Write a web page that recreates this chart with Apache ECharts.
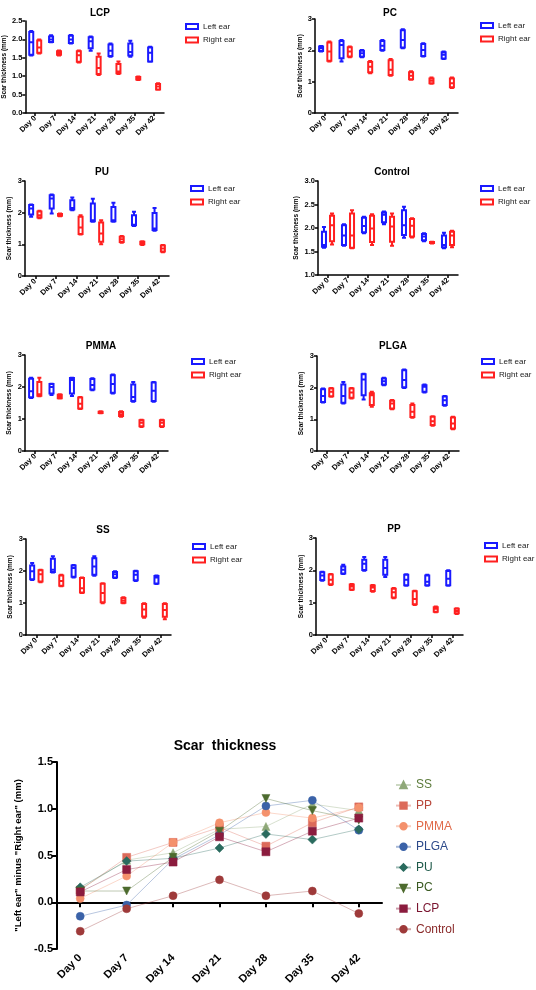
<!DOCTYPE html>
<html><head><meta charset="utf-8">
<script src="https://cdn.jsdelivr.net/npm/echarts@6/dist/echarts.min.js"></script>
<style>html,body{margin:0;padding:0;background:#fff}#c{width:536px;height:990px}</style>
</head><body><div id="c"></div>
<script>
// ---------- DATA ----------
const days = ['Day 0','Day 7','Day 14','Day 21','Day 28','Day 35','Day 42'];
// each box: [min, Q1, median, Q3, max]
const lcpLeft  = [[1.56,1.58,1.92,2.20,2.23],[1.92,1.93,2.00,2.08,2.11],[1.89,1.90,2.00,2.10,2.12],[1.69,1.76,1.95,2.06,2.08],[1.53,1.55,1.69,1.86,1.89],[1.53,1.56,1.66,1.89,1.96],[1.39,1.40,1.64,1.78,1.80]];
const lcpRight = [[1.62,1.64,1.78,1.97,2.00],[1.56,1.58,1.63,1.68,1.70],[1.37,1.39,1.57,1.68,1.70],[1.03,1.06,1.22,1.53,1.62],[1.06,1.08,1.13,1.33,1.40],[0.90,0.91,0.94,0.98,0.99],[0.63,0.64,0.72,0.79,0.81]];
const pcLeft   = [[1.96,1.98,2.07,2.12,2.14],[1.64,1.75,2.17,2.30,2.33],[1.78,1.80,1.91,1.99,2.01],[1.99,2.01,2.15,2.30,2.33],[2.07,2.09,2.33,2.64,2.67],[1.80,1.82,2.01,2.20,2.23],[1.72,1.74,1.86,1.94,1.96]];
const pcRight  = [[1.64,1.67,1.96,2.25,2.28],[1.78,1.80,1.96,2.10,2.12],[1.27,1.30,1.48,1.63,1.66],[1.19,1.21,1.38,1.68,1.72],[1.06,1.08,1.19,1.30,1.33],[0.93,0.95,1.03,1.10,1.13],[0.80,0.82,0.95,1.10,1.13]];
const puLeft   = [[1.87,1.94,2.13,2.24,2.26],[1.97,2.13,2.45,2.55,2.57],[2.08,2.10,2.15,2.39,2.48],[1.71,1.73,1.76,2.29,2.44],[1.71,1.73,1.76,2.18,2.31],[1.58,1.60,1.62,1.92,2.03],[1.43,1.45,1.50,1.99,2.15]];
const puRight  = [[1.82,1.85,1.92,2.04,2.06],[1.89,1.90,1.93,1.96,1.97],[1.31,1.33,1.53,1.87,1.92],[1.00,1.08,1.34,1.69,1.76],[1.05,1.07,1.16,1.24,1.26],[0.98,1.00,1.04,1.08,1.10],[0.75,0.77,0.87,0.96,0.98]];
const ctrlLeft = [[1.58,1.60,1.64,1.92,2.02],[1.62,1.64,1.84,2.06,2.08],[1.89,1.91,2.04,2.22,2.24],[2.08,2.12,2.28,2.33,2.35],[1.79,1.85,2.06,2.38,2.45],[1.72,1.74,1.82,1.87,1.89],[1.57,1.59,1.64,1.84,1.90]];
const ctrlRight= [[1.65,1.72,2.06,2.26,2.31],[1.57,1.58,1.84,2.31,2.38],[1.64,1.70,1.99,2.26,2.29],[1.62,1.71,2.03,2.24,2.31],[1.80,1.82,2.05,2.19,2.21],[1.67,1.68,1.69,1.70,1.71],[1.59,1.64,1.84,1.92,1.94]];
const pmmaLeft = [[1.66,1.68,1.87,2.26,2.29],[1.75,1.80,2.00,2.09,2.10],[1.72,1.80,2.22,2.28,2.29],[1.90,1.92,2.06,2.25,2.27],[1.80,1.82,2.09,2.37,2.39],[1.54,1.56,1.69,2.08,2.16],[1.54,1.56,1.88,2.14,2.16]];
const pmmaRight= [[1.71,1.73,1.77,2.16,2.29],[1.64,1.65,1.71,1.76,1.77],[1.31,1.33,1.48,1.67,1.69],[1.18,1.19,1.21,1.23,1.24],[1.07,1.09,1.15,1.22,1.24],[0.75,0.77,0.88,0.96,0.98],[0.75,0.77,0.88,0.96,0.98]];
const plgaLeft = [[1.53,1.55,1.74,1.95,1.97],[1.50,1.52,1.74,2.10,2.18],[1.63,1.76,2.26,2.42,2.44],[2.08,2.10,2.20,2.29,2.31],[1.99,2.01,2.24,2.55,2.57],[1.85,1.87,2.03,2.08,2.10],[1.43,1.45,1.60,1.72,1.74]];
const plgaRight= [[1.71,1.73,1.87,1.97,1.99],[1.66,1.68,1.85,1.97,1.99],[1.40,1.45,1.76,1.82,1.87],[1.32,1.34,1.50,1.59,1.61],[1.05,1.07,1.24,1.45,1.50],[0.80,0.82,0.94,1.08,1.10],[0.69,0.71,0.87,1.06,1.08]];
const ssLeft   = [[1.72,1.74,1.99,2.17,2.25],[1.95,1.97,2.04,2.38,2.46],[1.80,1.82,2.09,2.17,2.19],[1.85,1.88,2.14,2.40,2.46],[1.78,1.80,1.90,1.97,1.99],[1.69,1.71,1.88,1.99,2.01],[1.59,1.61,1.80,1.84,1.86]];
const ssRight  = [[1.65,1.67,1.90,2.02,2.04],[1.52,1.54,1.69,1.86,1.88],[1.31,1.33,1.46,1.78,1.80],[0.99,1.02,1.31,1.60,1.62],[0.99,1.01,1.08,1.16,1.18],[0.54,0.58,0.80,0.97,0.99],[0.49,0.57,0.78,0.97,0.99]];
const ppLeft   = [[1.68,1.70,1.84,1.94,1.96],[1.89,1.90,2.02,2.12,2.17],[1.99,2.01,2.20,2.33,2.41],[1.79,1.86,2.07,2.33,2.41],[1.52,1.54,1.71,1.86,1.88],[1.52,1.54,1.65,1.84,1.86],[1.52,1.54,1.74,1.98,2.00]];
const ppRight  = [[1.55,1.57,1.71,1.87,1.89],[1.39,1.41,1.50,1.56,1.58],[1.34,1.36,1.47,1.53,1.55],[1.14,1.16,1.32,1.43,1.45],[0.93,0.95,1.11,1.35,1.37],[0.70,0.72,0.81,0.86,0.88],[0.65,0.67,0.74,0.81,0.83]];

// "Left ear" minus "Right ear" (mm)
const ssDiff   = [0.14, 0.45, 0.53, 0.78, 0.81, 1.05, 0.98];
const ppDiff   = [0.13, 0.48, 0.64, 0.80, 0.60, 0.85, 1.02];
const pmmaDiff = [0.04, 0.28, 0.64, 0.85, 0.96, 0.90, 1.01];
const plgaDiff = [-0.15, -0.03, 0.46, 0.72, 1.03, 1.09, 0.77];
const puDiff   = [0.16, 0.44, 0.47, 0.58, 0.73, 0.67, 0.78];
const pcDiff   = [0.12, 0.12, 0.48, 0.76, 1.11, 0.98, 0.88];
const lcpDiff  = [0.11, 0.35, 0.43, 0.70, 0.54, 0.76, 0.90];
const ctrlDiff = [-0.31, -0.07, 0.07, 0.24, 0.07, 0.12, -0.12];

// ---------- LAYOUT ----------
const FONT = "'Liberation Sans', Arial, sans-serif";
const BLUE = '#1a1aff', RED = '#ff2020';
const panels = [
  {t:'LCP',     L:lcpLeft,  R:lcpRight,  g:[25,21,139,92],  min:0, max:2.5, iv:0.5, dec:1, ng:16, tc:[95,3],   lg:[180,17.5]},
  {t:'PC',      L:pcLeft,   R:pcRight,   g:[315,19,143,94], min:0, max:3,   iv:1,   dec:0, ng:10, tc:[385,3],  lg:[475,16.5]},
  {t:'PU',      L:puLeft,   R:puRight,   g:[25,181,144,95], min:0, max:3,   iv:1,   dec:0, ng:12, tc:[97,162], lg:[185,179.5]},
  {t:'Control', L:ctrlLeft, R:ctrlRight, g:[318,181,140,94],min:1, max:3,   iv:0.5, dec:1, ng:18, tc:[387,162],lg:[475,179.5]},
  {t:'PMMA',    L:pmmaLeft, R:pmmaRight, g:[25,355,143,96], min:0, max:3,   iv:1,   dec:0, ng:12, tc:[96,336], lg:[186,352.5]},
  {t:'PLGA',    L:plgaLeft, R:plgaRight, g:[317,356,142,95],min:0, max:3,   iv:1,   dec:0, ng:12, tc:[388,336],lg:[476,352.5]},
  {t:'SS',      L:ssLeft,   R:ssRight,   g:[26,539,145,96], min:0, max:3,   iv:1,   dec:0, ng:12, tc:[98,520], lg:[187,537.5]},
  {t:'PP',      L:ppLeft,   R:ppRight,   g:[316,538,147,97],min:0, max:3,   iv:1,   dec:0, ng:11, tc:[389,519],lg:[479,536.5]}
];

const grid = [], xAxis = [], yAxis = [], series = [], title = [], legend = [];
const axLine = {show:true, lineStyle:{color:'#000', width:1.5}};
const axTick = {show:true, length:3, lineStyle:{color:'#000', width:1.5}};

panels.forEach((p, i) => {
  grid.push({left:p.g[0], top:p.g[1], width:p.g[2], height:p.g[3]});
  xAxis.push({gridIndex:i, type:'category', data:days, boundaryGap:true,
    axisLine:axLine, axisTick:Object.assign({alignWithLabel:true}, axTick),
    axisLabel:{rotate:45, fontSize:7.5, fontWeight:'bold', color:'#000', fontFamily:FONT, margin:4, interval:0},
    splitLine:{show:false}});
  yAxis.push({gridIndex:i, type:'value', min:p.min, max:p.max, interval:p.iv,
    name:'Scar thickness (mm)', nameLocation:'middle', nameGap:p.ng, nameRotate:90,
    nameTextStyle:{fontSize:6.5, fontWeight:'bold', color:'#000', fontFamily:FONT},
    axisLine:axLine, axisTick:axTick, splitLine:{show:false},
    axisLabel:{fontSize:7.5, fontWeight:'bold', color:'#000', fontFamily:FONT, margin:3,
      formatter: v => v.toFixed(p.dec)}});
  title.push({text:p.t, left:p.tc[0], top:p.tc[1], textAlign:'center',
    textStyle:{fontSize:10, fontWeight:'bold', color:'#000', fontFamily:FONT}});
  legend.push({left:p.lg[0], top:p.lg[1], orient:'vertical', itemWidth:12, itemHeight:5, itemGap:5.5,
    selectedMode:false, textStyle:{fontSize:8, color:'#222', fontFamily:FONT},
    data:[
      {name:'Left ear', icon:'rect', itemStyle:{color:'rgba(0,0,0,0)', borderColor:BLUE, borderWidth:2}},
      {name:'Right ear', icon:'rect', itemStyle:{color:'rgba(0,0,0,0)', borderColor:RED, borderWidth:2}}
    ]});
  series.push({type:'boxplot', name:'Left ear', xAxisIndex:i, yAxisIndex:i, data:p.L, boxWidth:[4,4],
    itemStyle:{color:'rgba(0,0,0,0)', borderColor:BLUE, borderWidth:2}, emphasis:{disabled:true}});
  series.push({type:'boxplot', name:'Right ear', xAxisIndex:i, yAxisIndex:i, data:p.R, boxWidth:[4,4],
    itemStyle:{color:'rgba(0,0,0,0)', borderColor:RED, borderWidth:2}, emphasis:{disabled:true}});
});

// ---------- bottom line chart ----------
const bi = panels.length;
grid.push({left:57, top:762, width:325, height:187});
xAxis.push({gridIndex:bi, type:'category', data:days, boundaryGap:true,
  axisLine:{show:true, lineStyle:{color:'#000', width:2}},
  axisTick:{show:true, alignWithLabel:true, length:5, lineStyle:{color:'#000', width:2}},
  axisLabel:{rotate:45, fontSize:11, fontWeight:'bold', color:'#000', fontFamily:FONT, margin:7, interval:0}});
yAxis.push({gridIndex:bi, type:'value', min:-0.5, max:1.5, interval:0.5,
  name:'"Left ear" minus "Right ear" (mm)', nameLocation:'middle', nameGap:27, nameRotate:90,
  nameTextStyle:{fontSize:9.5, fontWeight:'bold', color:'#000', fontFamily:FONT},
  axisLine:{show:true, lineStyle:{color:'#000', width:2}},
  axisTick:{show:true, length:5, lineStyle:{color:'#000', width:2}}, splitLine:{show:false},
  axisLabel:{fontSize:11, fontWeight:'bold', color:'#000', fontFamily:FONT, margin:4, formatter:v=>v.toFixed(1)}});
title.push({text:'Scar  thickness', left:220, top:734, textAlign:'center',
  textStyle:{fontSize:14, fontWeight:'bold', color:'#000', fontFamily:FONT}});

const lineDefs = [
  {n:'SS',      d:ssDiff,   sym:'triangle', rot:0,   c:'#8fa878', tc:'#5b7a3a'},
  {n:'PP',      d:ppDiff,   sym:'rect',     rot:0,   c:'#dc6a5a', tc:'#b8463a'},
  {n:'PMMA',    d:pmmaDiff, sym:'circle',   rot:0,   c:'#f4916c', tc:'#e06a4a'},
  {n:'PLGA',    d:plgaDiff, sym:'circle',   rot:0,   c:'#3b62a8', tc:'#2d4a8a'},
  {n:'PU',      d:puDiff,   sym:'diamond',  rot:0,   c:'#2a6b5e', tc:'#1f5a4a'},
  {n:'PC',      d:pcDiff,   sym:'triangle', rot:180, c:'#4d6b2e', tc:'#3a5a22'},
  {n:'LCP',     d:lcpDiff,  sym:'rect',     rot:0,   c:'#8b1c3e', tc:'#7a1530'},
  {n:'Control', d:ctrlDiff, sym:'circle',   rot:0,   c:'#9e3a3a', tc:'#8a2a2a'}
];
lineDefs.forEach(s => {
  series.push({type:'line', name:s.n, xAxisIndex:bi, yAxisIndex:bi, data:s.d,
    symbol:s.sym, symbolRotate:s.rot, symbolSize:s.sym==='rect'?8:(s.sym==='diamond'?9:8),
    itemStyle:{color:s.c, borderColor:s.c, borderWidth:0.5},
    lineStyle:{color:s.c, width:0.8, opacity:0.45}, emphasis:{disabled:true}, z:3});
});
legend.push({left:390, top:774, orient:'vertical', itemWidth:15, itemHeight:8, itemGap:8.6, selectedMode:false,
  textStyle:{fontSize:12, fontFamily:FONT},
  data: lineDefs.map(s => ({name:s.n, textStyle:{color:s.tc}}))});

const chart = echarts.init(document.getElementById('c'), null, {renderer:'canvas'});
chart.setOption({animation:false, backgroundColor:'#fff', title, legend, grid, xAxis, yAxis, series, tooltip:{show:false}});
</script>
</body></html>
